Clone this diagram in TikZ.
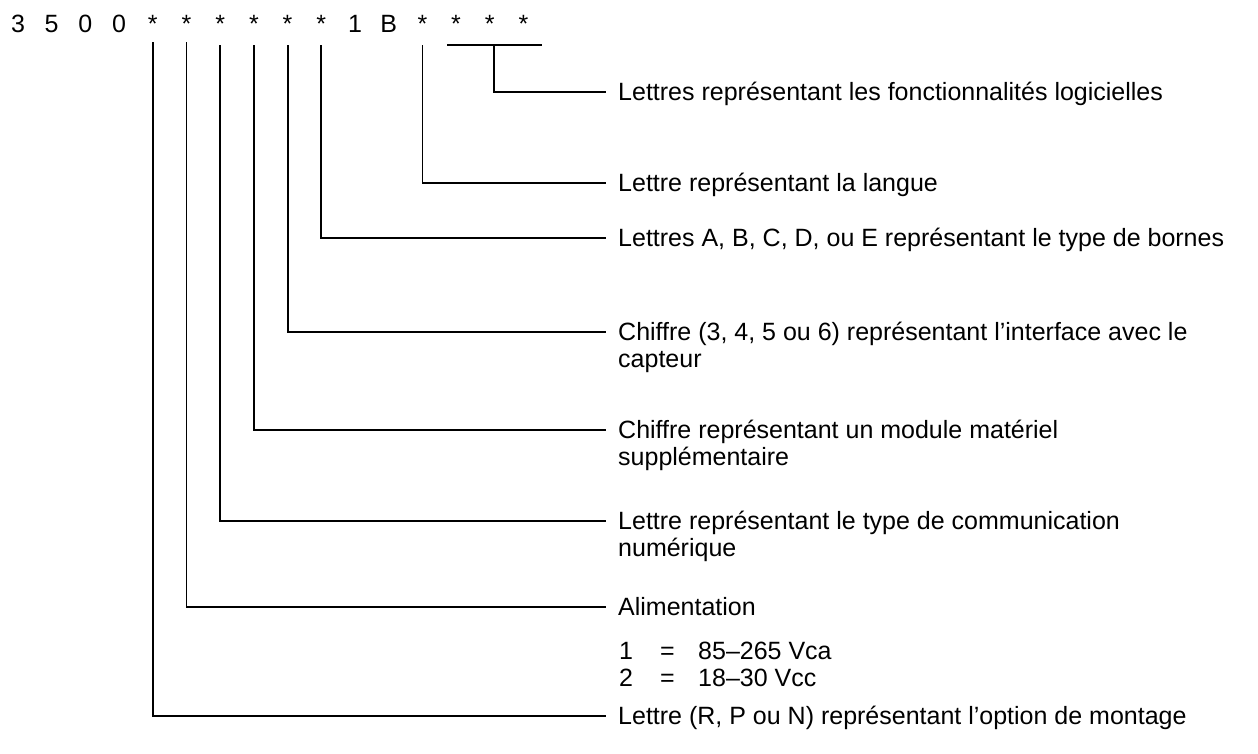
\documentclass[tikz,border=0pt]{standalone}
\usepackage{fontspec}
\setmainfont{Liberation Sans}
\begin{document}
\begin{tikzpicture}[x=1pt,y=-1pt,
  hdr/.style={anchor=base,inner sep=0pt,font=\fontsize{25}{29}\selectfont},
  lbl/.style={anchor=west,inner xsep=12pt,inner ysep=0pt,text height=17.9pt,text depth=0pt,font=\fontsize{25}{29}\selectfont},
  sub/.style={anchor=base west,inner sep=0pt,font=\fontsize{25}{29}\selectfont},
  conn/.style={line width=1.8pt}]
\useasboundingbox (0,0) rectangle (1258,753);
% header characters
\foreach \c [count=\i from 0] in {3,5,0,0,*,*,*,*,*,*,1,B,*,*,*,*}{
  \node[hdr] (h\i) at ({18+33.7*\i},32) {\c};
}
% labels
\node[lbl] (t1) at (606,92) {Lettres représentant les fonctionnalités logicielles};
\node[lbl] (t2) at (606,183) {Lettre représentant la langue};
\node[lbl] (t3) at (606,238) {Lettres A, B, C, D, ou E représentant le type de bornes};
\node[lbl] (t4) at (606,332) {Chiffre (3, 4, 5 ou 6) représentant l’interface avec le};
\node[lbl] (t4b) at (606,359) {capteur};
\node[lbl] (t5) at (606,430) {Chiffre représentant un module matériel};
\node[lbl] (t5b) at (606,457) {supplémentaire};
\node[lbl] (t6) at (606,521) {Lettre représentant le type de communication};
\node[lbl] (t6b) at (606,548) {numérique};
\node[lbl] (t7) at (606,607) {Alimentation};
\node[sub] (a1) at (619,659) {1};
\node[sub] (a2) at (660,659) {=};
\node[sub] (a3) at (698,659) {85–265 Vca};
\node[sub] (b1) at (619,686) {2};
\node[sub] (b2) at (660,686) {=};
\node[sub] (b3) at (698,686) {18–30 Vcc};
\node[lbl] (t8) at (606,716) {Lettre (R, P ou N) représentant l’option de montage};
% connectors
\draw[conn] ([yshift=-10pt]h4.base) |- (t8.west);
\draw[conn] ([yshift=-10pt]h5.base) |- (t7.west);
\draw[conn] ([yshift=-13pt]h6.base) |- (t6.west);
\draw[conn] ([yshift=-13pt]h7.base) |- (t5.west);
\draw[conn] ([yshift=-13pt]h8.base) |- (t4.west);
\draw[conn] ([yshift=-13pt]h9.base) |- (t3.west);
\draw[conn] ([yshift=-13pt]h12.base) |- (t2.west);
\coordinate (ovl) at (447,45);
\coordinate (ovr) at (542,45);
\coordinate (ovm) at (494,45);
\draw[conn] (ovl) -- (ovr);
\draw[conn] (ovm) |- (t1.west);
\end{tikzpicture}
\end{document}
